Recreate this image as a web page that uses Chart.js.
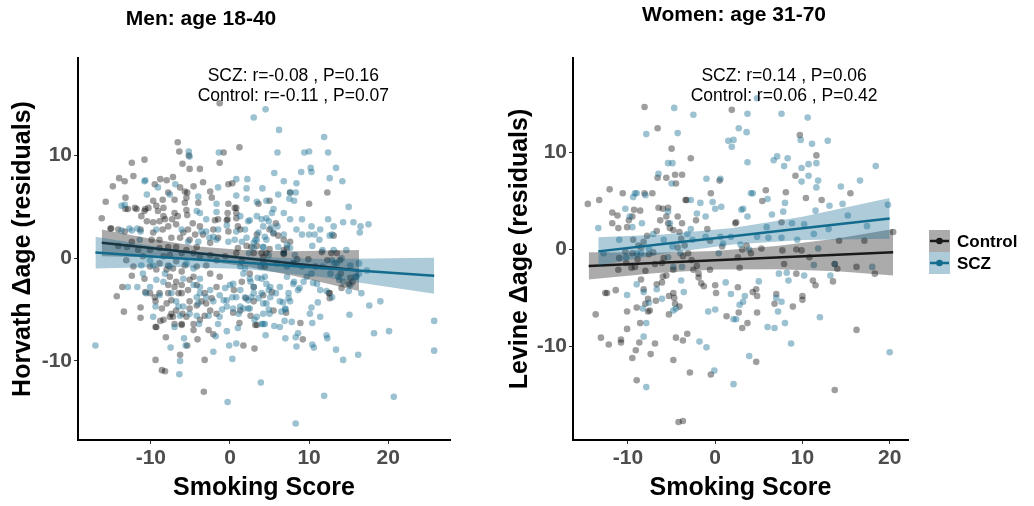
<!DOCTYPE html>
<html>
<head>
<meta charset="utf-8">
<script src="https://cdn.jsdelivr.net/npm/chart.js@4.4.1/dist/chart.umd.min.js"></script>
<style>
  html, body { margin: 0; padding: 0; background: #fff; }
  #wrap { position: relative; width: 1034px; height: 506px; overflow: hidden; }
  #men { position: absolute; left: 0; top: 0; }
  #women { position: absolute; left: 490px; top: 0; }
</style>
</head>
<body>
<div id="wrap">
  <canvas id="men" width="490" height="506"></canvas>
  <canvas id="women" width="544" height="506"></canvas>
</div>
<script>
// tick labels
const menXTicks = [-10, 0, 10, 20];
const menYTicks = [-10, 0, 10];
const womenXTicks = [-10, 0, 10, 20];
const womenYTicks = [-10, 0, 10];

// Men: age 18-40, [smoking score, Horvath delta age]
const menScz = [
  [-17.0,-8.5],[3.0,13.7],[4.5,14.5],[6.2,12.5],[11.9,11.8],[6.0,10.3],[9.4,10.3],[10.0,10.4],[12.4,10.3],[10.2,8.8],
  [10.3,8.4],[12.6,7.8],[13.4,8.8],[14.2,7.5],[9.0,8.4],[5.6,8.3],[6.8,7.5],[8.4,7.3],[7.6,6.4],[8.1,5.6],
  [8.3,6.4],[7.5,5.8],[5.5,4.8],[6.1,6.2],[15.0,5.0],[14.3,3.5],[15.6,3.5],[16.5,3.1],[17.5,3.3],[16.4,2.5],
  [9.1,3.8],[9.1,2.3],[10.0,2.3],[10.7,2.3],[11.3,1.8],[12.6,2.2],[12.9,2.3],[10.4,1.2],[11.7,0.8],[13.1,0.8],
  [14.7,0.8],[14.1,0],[15.2,-0.7],[17.3,-1.2],[16.6,-3.4],[17.6,-4.6],[19.0,-4.2],[18.2,-7.3],[20.1,-7.1],[25.8,-6.1],
  [25.8,-9.0],[20.7,-13.5],[11.9,-13.4],[8.3,-16.1],[3.9,-12.1],[-0.3,-14.0],[16.2,-9.4],[14.3,-9.9],[13.4,-8.9],[12.2,-7.5],
  [12.3,-7.8],[10.4,-8.4],[10.6,-8.7],[8.4,-8.6],[8.3,-7.7],[8.6,-7.3],[7.0,-7.8],[6.9,-6.1],[7.8,-6.2],[10.4,-6.3],
  [10.1,-5.4],[10.3,-4.8],[11.4,-5.7],[11.1,-4.3],[15.1,-5.5],[5.6,-6.6],[6.3,-6.7],[4.5,-7.5],[0.8,-8.3],[0.3,-9.8],
  [-0.1,-8.5],[-0.4,-7.1],[1.0,-6.8],[-2.1,-9.1],[-1.8,-7.6],[-7.5,-8.7],[-6.4,-11.3],[-6.3,-10.0],[-5.8,-7.8],[-5.6,-8.5],
  [6.7,-4.3],[7.4,-3.9],[7.4,-3.4],[7.0,-5.0],[5.0,-5.4],[4.9,-5.0],[4.2,-6.4],[8.1,-2.3],[8.8,-2.9],[10.5,-2.4],
  [12.2,-3.2],[12.9,-3.8],[13.8,-2.1],[15.0,-3.2],[13.2,-0.5],[16.0,-1.8],[16.3,-1.5],[-1.4,10.3],[-5.2,10.4],[-13.7,2.7],
  [-12.4,2.7],[-11.7,2.9],[-10.7,7.6],
  [-5.1,9.9],[-10.8,7.5],[-6.9,7.2],[-4.0,6.0],[-1.5,6.9],[0.8,7.7],[2.2,7.7],[2.1,6.8],[4.1,6.8],[0.8,6.1],
  [2.1,5.8],[3.4,5.5],[4.6,5.6],[-1.7,5.3],[-1.7,4.5],[-3.0,2.6],[-2.6,2.0],[-10.5,6.2],[-13.7,5.1],[-12.7,2.9],
  [-6.1,2.8],[-3.6,2.6],[-11.4,1.8],[-0.2,1.6],[0.8,2.6],[2.1,2.0],[4.4,2.1],[4.2,1.1],[-11.2,-0.7],[-8.4,-2.3],
  [-11.0,-1.5],[-5.9,-2.0],[-4.6,-2.6],[-3.8,-2.0],[-10.6,-3.4],[-11.7,-2.8],[-12.9,-2.8],[-9.7,-5.7],[-9.4,-4.7],[-6.5,-4.7],
  [-6.3,-5.6],[-7.0,-6.7],[-4.2,-3.8],[-4.0,-4.4],[-3.8,-2.8],[-0.6,-2.9],[0,-2.6],[0.3,-3.8],[-0.8,-4.1],[-1.5,-6.4],
  [-3.9,-6.4],[1.3,-4.7],[2.7,-3.8],[3.4,-5.7],[2.3,-4.9],[4.4,-6.4],[4.0,-2.0],[2.5,-2.0],[1.9,-1.0],
  [-7.6,6.2],[-9.1,6.9],[-4.2,4.6],[-13.3,5.2],[-11.3,2.6],[-9.3,2.8],[-3.8,4.4],[-3.0,3.8],[-2.1,2.1],[-4.0,1.6],
  [-5.3,1.6],[-5.5,-0.5],[-4.6,-1.0],[-1.7,1.8],[-0.4,3.2],[0.6,1.8],[1.5,1.6],[3.0,1.5],[3.4,1.8],[4.0,3.8],
  [4.6,3.9],[2.5,3.7],[1.9,2.8],[-1.5,2.8],[-10.1,-0.2],[-9.7,-0.7],[-7.6,-0.8],[-8.2,-1.5],[-9.3,-2.1],[-10.1,-2.8],
  [-8.9,-3.6],[-7.4,-3.4],[-3.8,-3.4],[-3.0,-3.8],[-2.5,-3.1],[-1.3,-3.6],[-2.1,-4.2],[-0.4,-4.7],[0.8,-3.8],[3.0,-2.8],
  [4.6,-2.5],[4.0,-3.4],[4.6,-4.4],[4.0,-6.4],[-6.8,-4.2],[-5.9,-4.7],[-5.1,-5.4],[-4.2,-5.6],[-2.7,-5.6],[-1.3,-5.7],
  [4.9,3.6],[5.2,3.0],[5.5,2.5],[6.0,3.1],[6.8,2.3],[7.2,1.3],[6.1,1.1],[6.8,0.5],[7.6,1.0],[8.2,0.3],
  [8.0,-0.5],[7.2,-0.8],[5.9,-0.5],[4.9,0.3],[4.6,1.8],[4.2,1.1],[3.6,2.5],[3.2,1.8],[3.0,1.0],[2.4,0.5],
  [3.9,-0.8],[4.4,-1.8],[3.5,-1.9],[2.6,-2.3],[1.7,-1.5],[1.3,-0.8],[7.2,-1.8],[8.0,-2.5],[8.6,-3.1],[9.3,-2.3],
  [9.1,-0.8],[9.7,-1.8],[10.3,-1.5],[11.0,-2.5],[11.4,-3.1],[11.7,-0.8],[12.7,-1.5],[13.7,-1.8],[14.3,-2.3],[15.2,-2.6],
  [13.5,-0.5],[12.9,-0.2],[15.8,-1.8],[16.3,-0.5],
  [0.4,-2.5],[1.3,-3.1],[1.9,-3.8],[2.3,-4.1],[3.0,-3.4],[3.6,-3.9],[4.2,-4.4],[4.9,-3.1],[5.1,-3.8],[5.1,-2.8],
  [5.8,-3.4],[6.3,-4.2],[7.0,-4.9],[7.6,-4.2],[6.3,-2.8],[6.5,-5.2],[4.2,-5.4],[3.1,-6.0],[2.5,-4.9],[1.7,-4.9],
  [1.1,-5.4],[0.4,-4.9],[-0.4,-4.1],[-1.0,-5.0],
  [1.3,4.1],[2.3,3.6],[3.4,4.1],[4.2,3.1],[5.3,4.4],[6.8,4.4],[7.6,3.8],[8.4,2.8],[10.3,3.1],[11.4,2.8],
  [12.4,3.8],[13.1,3.1]
];
const menCtrl = [
  [-1.3,15.1],[-6.6,11.3],[-6.4,10.4],[-6.0,9.2],[-5.2,10.0],[-0.8,10.3],[1.2,10.8],[-10.8,9.6],[-12.4,9.3],[-12.2,8.0],
  [-14.0,7.8],[-13.3,7.5],[-14.8,7.0],[-15.7,5.5],[-16.2,3.9],[-15.1,2.9],[-13.2,5.9],[-12.0,4.9],[-13.2,4.8],[-10.7,4.8],
  [-13.0,1.1],[-14.1,1.2],[-14.3,-3.7],[-13.4,-5.2],[-11.3,-4.8],[-11.3,-5.8],[-10.7,-3.3],[-10.1,-3.4],[-12.4,-1.7],[-9.4,-6.7],
  [-9.4,-9.9],[-8.6,-10.9],[-8.2,-11.0],[-6.3,-9.4],[-5.4,-8.5],[-4.1,-7.9],[-3.2,-9.9],[-3.3,-13.0],[1.7,-8.5],[3.1,-8.8],
  [3.2,-6.5],[5.5,-5.1],[9.2,-7.9],[8.9,-6.3],[12.6,-3.4],[12.6,-3.9],[14.1,-2.9],[12.3,6.4],[10.0,5.3],[5.0,5.6],
  [5.8,3.4],[5.0,2.8],[3.6,5.3],[7.6,6.4],
  [0.3,7.3],[-0.2,5.3],[0.8,4.4],[-0.3,3.8],[0.6,4.9],[1.0,3.1],[1.3,2.8],[1.0,1.0],[2.1,1.2],[3.0,0.5],
  [3.4,1.2],[4.0,0.5],[4.2,-0.4],[4.6,0.5],[5.0,0.9],[5.5,2.4],[6.8,1.8],[6.8,0.5],[7.2,1.0],[8.0,-0.5],
  [8.5,-0.1],[9.9,-0.1],[10.8,-0.8],[12.3,-0.2],[12.8,0.5],[13.5,0.5],[14.0,-1.5],[15.0,-2.5],[15.2,-1.9],[15.5,-2.3],
  [13.9,-0.2],[11.6,0.6],[6.8,0.4],[4.2,0.1],[2.5,-1.5],[1.5,-2.3],[3.0,-2.8],[0.5,-3.1],[2.0,-3.9],[5.3,-3.3],
  [4.2,-3.6],[7.1,-5.3],[1.2,-6.3],[0.4,-5.3],[2.6,-5.6],[6.1,2.2],[7.6,1.6],[13.1,2.2],[6.8,0.8],[12.5,-3.4],
  [-9.5,7.2],[-8.8,7.7],[-8.0,7.6],[-7.2,7.9],[-6.3,6.9],[-5.7,6.5],[-5.4,6.4],[-5.7,5.4],[-5.5,5.9],[-4.0,5.4],
  [-2.3,5.9],[-0.2,7.2],[0.8,4.9],[-0.3,4.4],[0.8,3.9],[-0.4,3.7],[-1.5,3.8],[-1.9,3.7],[-2.1,2.8],[-4.7,3.4],
  [-5.4,4.2],[-6.6,4.1],[-7.0,4.4],[-7.3,3.8],[-8.2,3.8],[-8.9,3.6],[-9.7,3.5],[-8.5,2.8],[-9.1,4.6],[-8.4,4.9],
  [-8.5,5.7],[-9.3,5.1],[-9.7,5.6],[-10.3,4.9],[-11.8,4.8],[-12.9,4.8],[-10.8,4.6],[-13.3,2.6],[-14.1,2.8],[-15.0,2.9],
  [-11.3,2.8],[-9.9,1.8],[-8.9,1.8],[-7.4,2.0],[-6.3,2.0],[-5.3,2.8],[-4.4,2.3],[-4.2,1.1],[-2.5,1.5],[-6.8,1.1],
  [-7.8,1.1],[-8.9,1.0],[-10.1,0.8],[-12.4,1.6],[-1.5,2.0],[-0.2,2.6],[3.4,2.3],[2.7,1.1],[-12.2,-0.8],[-10.1,-0.8],
  [-8.9,-0.5],[-7.8,-0.7],[-7.2,-1.0],[-6.1,-1.3],[-7.6,-1.8],[-6.8,-2.3],[-7.8,-2.6],[-10.8,-2.0],[-5.1,-2.1],[-5.3,-3.1],
  [-7.0,-2.8],[-6.1,-3.4],[-6.5,-3.4],[-7.8,-3.4],[-8.9,-3.4],[-9.5,-3.8],[-13.6,-2.8],[-9.4,-4.2],[-8.6,-4.9],[-8.4,-6.0],
  [-7.4,-5.4],[-7.0,-6.4],[-6.1,-6.4],[-9.3,-6.7],[-5.1,-4.2],[-3.2,-3.4],[-2.3,-3.9],[-1.7,-2.8],[-2.5,-5.1],[-3.0,-4.4],
  [-3.2,-5.6],[-1.7,-5.4],[-3.6,-4.2],[1.3,-5.1],[3.0,-4.2],[3.4,-6.5],[4.4,-0.8],
  [-8.4,4.1],[-7.8,3.1],[-6.8,3.3],[-5.9,2.5],[-5.1,1.8],[-3.8,3.1],[-3.4,2.3],[-5.5,0.8],[-4.6,0.5],[-6.1,0.5],
  [-7.6,0.3],[-3.8,0.2],[-2.5,0.3],[-1.7,-0.2],[-3.0,-0.7],[-4.2,-0.8],[-5.7,-0.7],[-6.8,-0.3],[-8.4,0.2],[-9.3,-1.1],
  [-8.0,-1.1],[-4.6,-1.8],[-6.1,-2.6],[-7.4,-4.1],[-6.8,-5.1],[-8.0,-4.4],[-5.5,-5.7],[-4.6,-6.4],[-7.6,-5.7],[-4.2,-2.6],
  [-2.5,-1.5],[-1.3,-1.8],[-0.6,0.2],[0.8,0.5],[1.5,-0.3],[-11.0,0.2],[-13.1,-0.2],[-11.6,0.8],[-9.7,2.5],[-10.5,3.6],
  [-11.2,4.1],[-5.5,4.7],[-7.0,5.7],[-7.8,6.4],[-4.6,7.0],[-3.4,7.4],[-2.5,6.5],[-3.8,8.7],[-1.3,9.3],[-5.1,8.7],
  [-8.8,-6.1],[-7.2,-5.7],[-6.0,-5.4],[-5.1,-4.9],[-4.2,-4.6],[-3.8,-6.0],[-2.7,-7.0],[-2.1,-7.4],[-8.1,-7.7],[-6.1,-6.5],
  [-4.6,-7.0]
];

// Women: age 31-70, [smoking score, Levine delta age]
const womenScz = [
  [-13.4,2.2],[-12.8,-0.4],[-11.0,1.0],[-10.3,4.2],[-9.8,3.4],[-9.5,2.3],[-9.4,5.4],[-9.2,5.8],[-9.0,5.8],[-8.4,2.7],
  [-8.0,5.6],[-7.9,11.9],[-7.9,-14.2],[-8.2,-9.0],[-7.9,-7.6],[-9.0,-3.6],[-10.1,-4.7],[-9.0,-0.4],[-8.2,-4.4],[-8.3,-6.1],
  [-7.6,-5.5],[-6.5,7.8],[-5.4,8.9],[-4.9,8.9],[-5.0,6.8],[-4.7,14.6],[-4.3,12.0],[-2.5,13.9],[-2.8,5.1],[-5.4,3.9],
  [-5.2,2.7],[-4.9,0.3],[-5.9,1.0],[-5.4,-0.8],[-4.8,-1.8],[-6.1,-5.1],[-6.7,-4.1],[-4.8,-6.3],[-4.5,-6.1],[-3.9,-3.2],
  [-3.6,-4.4],[-3.8,-1.8],[-4.0,-0.4],[-3.2,1.6],[-2.8,2.1],[-1.8,-9.5],[-1.0,-10.1],[-0.8,-6.4],[0,-6.2],[-0.1,-12.5],
  [-2.1,3.7],[-1.7,4.8],[-1.1,3.4],[-1.0,7.3],[-0.3,4.9],[0,4.2],[0.6,7.3],[0.7,4.4],[1.5,11.2],[1.9,10.6],
  [2.1,11.3],[0.6,1.3],[0.9,0.6],[1.2,-3.4],[1.8,-4.6],[2.1,-7.2],[2.4,-7.2],[2.1,-13.9],[2.7,12.5],[3.6,12.1],
  [3.7,14.0],[3.7,9.0],[3.0,4.1],[3.2,4.2],[3.7,3.4],[4.1,5.8],[4.3,5.8],[2.9,0.5],[3.9,0],[3.2,-5.4],
  [3.4,-4.8],[2.8,-5.7],[3.9,-11.0],[4.8,15.6],[5.0,-3.3],[6.0,5.2],[6.1,1.2],[6.0,-8.0],[6.8,-8.1],[6.7,9.2],
  [7.1,9.6],[6.5,3.6],[7.6,14.0],[7.9,8.6],[8.3,9.4],[8.0,4.8],[7.8,3.9],[7.6,1.2],[8.0,-7.6],[7.6,-5.4],
  [7.0,-5.0],[7.2,-6.4],[7.3,-2.5],[8.4,-3.2],[8.7,-9.7],[8.2,-2.4],[8.8,2.7],[9.4,1.0],[9.8,11.3],[9.9,8.4],
  [9.9,7.0],[10.2,2.6],[10.2,-2.7],[10.6,13.6],[10.7,8.8],[10.7,7.6],[11.1,10.9],[11.6,8.9],[11.6,6.4],[11.8,7.1],
  [11.5,4.0],[11.3,1.6],[11.3,-1.6],[11.8,0.1],[13.0,2.1],[13.1,4.5],[12.9,11.2],[12.0,-7.0],[13.2,-2.7],[13.7,-1.5],
  [14.6,4.7],[14.4,6.5],[15.2,3.5],[16.6,7.1],[17.4,2.4],[18.0,-1.8],[18.4,8.6],[19.8,4.6],[20.0,-10.6],[5.9,2.3],
  [4.8,1.3],[1.8,1.3],[0.4,-0.4],[-1.1,1.3],[-2.6,1.0],[-7.1,1.6],[-7.6,0.1],[-8.5,-0.4],[-10.2,-0.8]
];
const womenCtrl = [
  [-14.6,4.7],[-13.3,5.1],[-13.7,-6.7],[-13.1,-9.1],[-12.2,-9.8],[-12.1,6.2],[-11.8,3.8],[-11.2,3.5],[-11.8,2.7],[-11.1,2.2],
  [-10.6,5.8],[-10.1,2.3],[-9.9,3.0],[-9.5,3.4],[-9.3,4.1],[-8.6,4.0],[-10.1,-6.4],[-10.1,-8.2],[-10.8,-9.3],[-10.8,-9.6],
  [-9.5,-11.2],[-9.1,-10.4],[-9.0,-13.5],[-8.1,5.8],[-7.2,5.8],[-8.1,14.7],[-6.6,12.5],[-6.6,7.4],[-5.6,7.4],[-4.6,7.7],
  [-4.5,6.8],[-5.0,10.4],[-3.8,7.7],[-2.8,9.4],[-3.3,5.1],[-6.9,-9.7],[-7.4,-10.8],[-8.7,-9.6],[-4.8,-11.4],[-4.2,-17.8],
  [-3.7,-17.7],[-2.9,-12.7],[-0.5,-12.9],[-3.2,-8.7],[-3.7,-9.4],[-4.5,-9.1],[-5.3,-6.7],[-4.1,-5.9],[-4.6,-5.6],[-6.8,-5.3],
  [-7.5,-6.3],[-8.0,-5.6],[-8.6,-7.6],[-7.7,-6.4],[-9.0,-6.0],[-8.2,-4.1],[-8.5,-3.1],[-7.7,-5.1],[-9.6,-1.9],[-11.1,-2.1],
  [-10.2,-1.4],[-11.0,-0.9],[-9.4,1.0],[-8.5,0.2],[-7.6,-0.5],[-6.9,-1.5],[-6.1,-1.4],[-4.8,-2.1],[-5.9,-0.9],[-6.0,-2.8],
  [-6.7,-3.6],[-6.1,-3.4],[-5.6,-2.7],[-4.8,-4.5],[-5.3,-4.8],[-4.7,-5.0],[-12.6,-4.5],[-12.4,-4.5],[-11.4,-4.2],[-8.0,-2.2],
  [-9.2,-1.8],[-8.9,-1.0],[-6.7,1.9],[-6.3,3.0],[-5.6,3.4],[-5.4,2.7],[-5.2,2.2],[-4.8,2.0],[-4.1,1.8],[-3.9,1.1],
  [-4.3,0.2],[-3.5,0.4],[-6.5,4.3],[-6.0,4.2],[-5.4,4.3],[-3.4,5.1],[-4.3,3.4],[-3.8,2.7],[-3.1,-0.4],[-2.5,-2.1],
  [-1.9,-2.5],[-1.9,-2.9],[-1.6,-3.5],[-1.3,-3.8],[0,-3.7],[0.1,-4.5],[-2.1,-1.7],[-0.6,0.9],[-0.5,5.8],[0.5,7.1],
  [2.3,2.7],[2.6,-0.8],[2.8,-1.9],[2.6,-3.9],[2.7,-6.5],[1.3,-6.9],[3.1,-8.1],[3.7,-7.6],[4.3,-4.4],[4.7,-4.1],
  [4.8,-4.8],[4.8,-6.5],[4.7,-11.6],[5.4,5.0],[5.8,6.1],[5.3,0.1],[3.6,0.4],[4.1,-0.4],[6.8,-5.6],[7.0,-4.6],
  [7.7,-0.1],[7.9,-1.5],[8.1,5.9],[7.6,2.8],[9.2,7.6],[8.9,-5.9],[9.7,11.8],[9.3,0],[9.3,-2.5],[10.0,-4.8],
  [10.0,-5.2],[9.9,-0.1],[10.4,5.3],[10.8,-0.8],[11.2,-3.2],[11.5,-3.7],[11.6,9.7],[12.2,5.1],[13.5,-3.3],[13.7,-14.5],
  [13.7,-1.5],[14.0,-2.0],[14.2,0.9],[15.5,5.8],[16.2,-8.3],[16.2,-1.8],[17.1,0.9],[18.3,-2.5],[20.4,1.8],[2.4,2.8],
  [3.1,0],[0.8,0.3],[-2.2,3.0],[-0.9,2.1],[-2.7,-1.1],[-0.6,-2.1],[-3.7,-0.7],[-7.1,-0.3],[-7.8,1.4],[-8.2,0.8],
  [-8.8,0.4],[-9.5,-0.4],[-10.3,-0.2],[1.9,14.4]
];

// fitted lines with 95% bands
const menCtrlFitX  = [-16.2, -10, -4, 2, 8, 16.3];
const menCtrlFitY  = [1.5, 0.99, 0.49, -0.01, -0.51, -1.2];
const menCtrlFitHi = [2.8, 1.89, 1.14, 0.79, 0.69, 0.8];
const menCtrlFitLo = [0.2, 0.09, -0.16, -0.81, -1.71, -3.2];
const menSczFitX  = [-17, -8, 2, 12, 25.8];
const menSczFitY  = [0.55, 0.08, -0.45, -0.97, -1.7];
const menSczFitHi = [2.1, 0.98, 0.15, -0.07, 0.05];
const menSczFitLo = [-1.0, -0.82, -1.05, -1.87, -3.45];
const womenCtrlFitX  = [-14.5, -7, 0, 7, 14, 20.4];
const womenCtrlFitY  = [-1.7, -1.4, -1.12, -0.84, -0.56, -0.3];
const womenCtrlFitHi = [-0.3, -0.35, -0.17, 0.36, 1.14, 2.1];
const womenCtrlFitLo = [-3.1, -2.45, -2.07, -2.04, -2.26, -2.7];
const womenSczFitX  = [-13.4, -6, 2, 10, 20];
const womenSczFitY  = [-0.2, 0.55, 1.37, 2.18, 3.2];
const womenSczFitHi = [1.25, 1.55, 2.22, 3.38, 5.3];
const womenSczFitLo = [-1.65, -0.45, 0.52, 0.98, 1.1];

const FONT = '"Liberation Sans", Arial, Helvetica, sans-serif';
const SCZ = '#136b8e';
const SCZ_PT = 'rgba(19,107,142,0.42)';
const SCZ_BAND = 'rgba(19,107,142,0.35)';
const CTRL = '#1a1a1a';
const CTRL_PT = 'rgba(0,0,0,0.38)';
const CTRL_BAND = 'rgba(0,0,0,0.33)';

const pts = arr => arr.map(p => ({ x: p[0], y: p[1] }));
const zip = (xs, ys) => xs.map((x, i) => ({ x: x, y: ys[i] }));

function fitSets(xs, ys, hi, lo, color, band) {
  return [
    { type: 'line', data: zip(xs, ys), borderColor: color, borderWidth: 2.5, pointRadius: 0, fill: false },
    { type: 'line', data: zip(xs, hi), borderWidth: 0, borderColor: 'rgba(0,0,0,0)', pointRadius: 0, backgroundColor: band, fill: '+1' },
    { type: 'line', data: zip(xs, lo), borderWidth: 0, borderColor: 'rgba(0,0,0,0)', pointRadius: 0, fill: false }
  ];
}

function axis(min, max, ticks, title, isX, size, titlePad) {
  return {
    type: 'linear', min: min, max: max,
    afterBuildTicks: s => { s.ticks = ticks.map(v => ({ value: v })); },
    afterFit: s => { if (isX) s.height = size; else s.width = size; },
    grid: { drawOnChartArea: false, drawTicks: true, tickLength: 4, color: '#333', lineWidth: 1 },
    border: { display: true, color: '#000', width: 2 },
    ticks: { font: { family: FONT, size: 21, weight: 'bold' }, color: '#4d4d4d', padding: 2 },
    title: { display: true, text: title, color: '#000', font: { family: FONT, size: 25, weight: 'bold' }, padding: titlePad }
  };
}

const panelText = {
  id: 'panelText',
  afterDraw(chart, args, o) {
    const ctx = chart.ctx;
    ctx.save();
    ctx.fillStyle = '#000';
    ctx.textAlign = 'center';
    ctx.textBaseline = 'alphabetic';
    ctx.font = 'bold 21px ' + FONT;
    ctx.fillText(o.title, o.titleX, o.titleY);
    ctx.font = '17.5px ' + FONT;
    const cx = chart.scales.x.getPixelForValue(o.noteX);
    o.notes.forEach((t, i) => ctx.fillText(t, cx, o.noteY + i * 20));
    if (o.legend) {
      const lx = o.legend.x;
      o.legend.items.forEach((it, i) => {
        const top = o.legend.y + i * 22;
        ctx.fillStyle = it.band;
        ctx.fillRect(lx, top, 21, 22);
        ctx.strokeStyle = it.color;
        ctx.lineWidth = 2.5;
        ctx.beginPath(); ctx.moveTo(lx + 1, top + 11); ctx.lineTo(lx + 20, top + 11); ctx.stroke();
        ctx.fillStyle = it.color;
        ctx.beginPath(); ctx.arc(lx + 10.5, top + 11, 3.3, 0, Math.PI * 2); ctx.fill();
        ctx.fillStyle = '#000';
        ctx.textAlign = 'left';
        ctx.font = 'bold 17px ' + FONT;
        ctx.fillText(it.label, lx + 28, top + 17);
      });
    }
    ctx.restore();
  }
};

function panel(id, o) {
  const datasets = [].concat(
    fitSets(o.sczFit[0], o.sczFit[1], o.sczFit[2], o.sczFit[3], SCZ, SCZ_BAND),
    fitSets(o.ctrlFit[0], o.ctrlFit[1], o.ctrlFit[2], o.ctrlFit[3], CTRL, CTRL_BAND),
    [
      { data: pts(o.scz), backgroundColor: SCZ_PT, borderWidth: 0, pointRadius: 3.3 },
      { data: pts(o.ctrl), backgroundColor: CTRL_PT, borderWidth: 0, pointRadius: 3.3 }
    ]
  );
  return new Chart(document.getElementById(id), {
    type: 'scatter',
    data: { datasets: datasets },
    options: {
      responsive: false,
      devicePixelRatio: 1,
      animation: false,
      layout: { padding: o.padding },
      plugins: { legend: { display: false }, tooltip: { enabled: false }, panelText: o.text },
      scales: { x: o.x, y: o.y }
    },
    plugins: [panelText]
  });
}

panel('men', {
  scz: menScz, ctrl: menCtrl,
  sczFit: [menSczFitX, menSczFitY, menSczFitHi, menSczFitLo],
  ctrlFit: [menCtrlFitX, menCtrlFitY, menCtrlFitHi, menCtrlFitLo],
  padding: { left: 0, top: 58, right: 40, bottom: 0 },
  x: axis(-19.2, 27.8, menXTicks, 'Smoking Score', true, 66, { top: 0, bottom: 3 }),
  y: axis(-17.7, 19.5, menYTicks, 'Horvath \u0394age (residuals)', false, 78, { top: 8, bottom: 0 }),
  text: {
    title: 'Men: age 18-40', titleX: 201, titleY: 25,
    noteX: 8.0, noteY: 81,
    notes: ['SCZ: r=-0.08 , P=0.16', 'Control: r=-0.11 , P=0.07']
  }
});

panel('women', {
  scz: womenScz, ctrl: womenCtrl,
  sczFit: [womenSczFitX, womenSczFitY, womenSczFitHi, womenSczFitLo],
  ctrlFit: [womenCtrlFitX, womenCtrlFitY, womenCtrlFitHi, womenCtrlFitLo],
  padding: { left: 0, top: 58, right: 126, bottom: 0 },
  x: axis(-16.3, 22.1, womenXTicks, 'Smoking Score', true, 66, { top: 0, bottom: 3 }),
  y: axis(-19.66, 19.75, womenYTicks, 'Levine \u0394age (residuals)', false, 83, { top: 15, bottom: 0 }),
  text: {
    title: 'Women: age 31-70', titleX: 244, titleY: 21,
    noteX: 7.9, noteY: 81,
    notes: ['SCZ: r=0.14 , P=0.06', 'Control: r=0.06 , P=0.42'],
    legend: {
      x: 439, y: 230,
      items: [
        { label: 'Control', color: CTRL, band: CTRL_BAND },
        { label: 'SCZ', color: SCZ, band: SCZ_BAND }
      ]
    }
  }
});
</script>
</body>
</html>
